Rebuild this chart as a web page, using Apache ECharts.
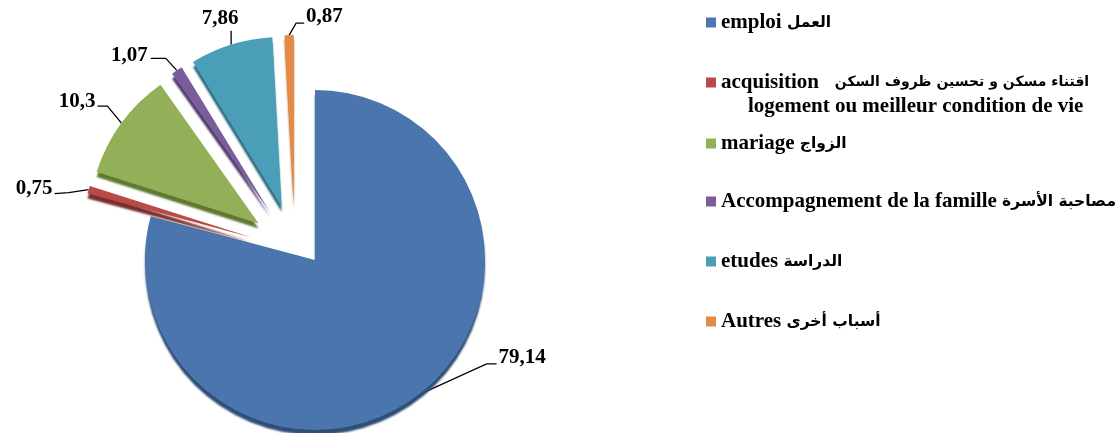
<!DOCTYPE html>
<html>
<head>
<meta charset="utf-8">
<title>pie</title>
<script src="https://cdn.jsdelivr.net/npm/echarts@6/dist/echarts.min.js"></script>
<style>
  html, body { margin: 0; padding: 0; background: #fff; }
  #chart { width: 1120px; height: 433px; }
</style>
</head>
<body>
<div id="chart"></div>
<script>
  // data
  var latinNames = ['emploi', 'acquisition', 'mariage', 'Accompagnement de la famille', 'etudes', 'Autres'];
  var arabicNames = ['العمل', 'اقتناء مسكن و تحسين ظروف السكن', 'الزواج', 'مصاحبة الأسرة', 'الدراسة', 'أسباب أخرى'];
  var extraLine = 'logement ou meilleur condition de vie';
  var values = [79.14, 0.75, 10.3, 1.07, 7.86, 0.87];
  var colors = ['#4A76AD', '#B94A48', '#93AF57', '#7A5D9C', '#4A9EB8', '#E48A42'];
  var sideColors = ['#2F4D75', '#7A2E2C', '#5E7A30', '#4E3A6A', '#2E6A7E', '#A85E25'];

  var categories = latinNames.map(function (n, i) { return n + ' ' + arabicNames[i]; });

  var serif = "'Liberation Serif', 'Times New Roman', serif";
  var legendCenters = [24, 84, 145, 203, 263, 323];

  // label placement relative to slice edge:
  // [elbow dx, dy, end dx, dy, text anchor dx, text middle dy, text align]
  var labelGeo = [
    [68, -31, 78, -31, 80, -37, 'left'],
    [-20, 3, -34, 4, -36, -1, 'right'],
    [-14, -17, -24, -17, -26, -22, 'right'],
    [-11, -12, -26, -12, -29, -15, 'right'],
    [0, -14, 0, -14, -11, -26, 'center'],
    [7, -12, 15, -12, 17, -19, 'left']
  ];

  var chart = echarts.init(document.getElementById('chart'));

  function fmt(p) { return String(p.value).replace('.', ','); }

  function alignShift(a, w) { return a === 'right' ? w : a === 'center' ? w / 2 : 0; }

  function layoutLabel(p) {
    var pts = p.labelLinePoints;
    if (!pts) return {};
    var g = labelGeo[p.dataIndex];
    var e = pts[0];
    var r = p.labelRect;
    var left = e[0] + g[4] - alignShift(g[6], r.width);
    var mid = e[1] + g[5];
    return {
      dx: left - r.x,
      dy: mid - (r.y + r.height / 2),
      labelLinePoints: [[e[0], e[1]], [e[0] + g[0], e[1] + g[1]], [e[0] + g[2], e[1] + g[3]]]
    };
  }

  function buildData(main) {
    return values.map(function (v, i) {
      var show = main ? i === 0 : i > 0;
      return {
        name: categories[i],
        value: v,
        selected: !main && i > 0,
        itemStyle: { color: colors[i], opacity: show ? 1 : 0, shadowColor: sideColors[i] },
        label: { show: show },
        labelLine: { show: show }
      };
    });
  }

  var pieBase = {
    type: 'pie',
    radius: 170,
    startAngle: 90,
    clockwise: true,
    avoidLabelOverlap: false,
    emphasis: { disabled: true },
    itemStyle: {
      borderWidth: 0,
      shadowBlur: 2,
      shadowOffsetY: 5
    },
    label: {
      position: 'outside',
      formatter: fmt,
      color: '#000',
      fontFamily: serif,
      fontWeight: 'bold',
      fontSize: 21
    },
    labelLine: {
      show: true,
      length: 20,
      length2: 10,
      lineStyle: { color: '#000', width: 1.3 }
    },
    labelLayout: layoutLabel
  };

  var series = [
    Object.assign({}, pieBase, {
      name: 'main',
      center: [315, 260],
      data: buildData(true)
    }),
    Object.assign({}, pieBase, {
      name: 'exploded',
      center: [295, 250],
      selectedMode: 'multiple',
      selectedOffset: 45,
      select: { itemStyle: { borderWidth: 0 } },
      data: buildData(false)
    })
  ];

  function richText(arSize) {
    return {
      lat: { color: '#000', fontFamily: serif, fontWeight: 'bold', fontSize: 21, lineHeight: 24 },
      ar: { color: '#000', fontFamily: "'DejaVu Sans', sans-serif", fontWeight: 'bold', fontSize: arSize, lineHeight: 24 }
    };
  }

  var legends = categories.map(function (name, i) {
    var gap = i === 1 ? '   ' : ' ';
    return {
      left: 706,
      top: legendCenters[i] - 12,
      padding: 0,
      orient: 'vertical',
      icon: 'rect',
      itemWidth: 10,
      itemHeight: 10,
      selectedMode: false,
      formatter: function () { return '{lat|' + latinNames[i] + gap + '}{ar|' + arabicNames[i] + '}'; },
      textStyle: { rich: richText(i === 1 ? 14 : 15.5) },
      data: [{ name: name, itemStyle: { color: colors[i], opacity: 1, borderWidth: 0, shadowBlur: 0 } }]
    };
  });

  chart.setOption({
    backgroundColor: '#fff',
    animation: false,
    title: {
      text: extraLine,
      left: 748,
      top: 95,
      padding: 0,
      textStyle: { color: '#000', fontFamily: serif, fontWeight: 'bold', fontSize: 21, lineHeight: 24 }
    },
    legend: legends,
    series: series
  });
</script>
</body>
</html>
